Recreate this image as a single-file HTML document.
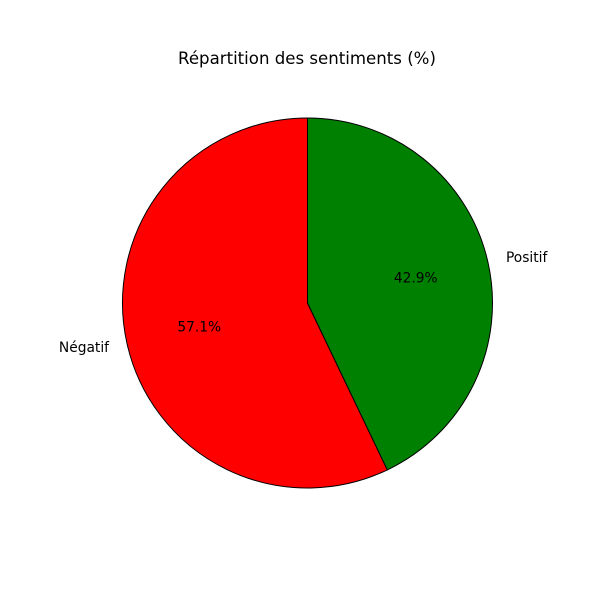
<!DOCTYPE html>
<html>
<head>
<meta charset="utf-8">
<style>
  html,body{margin:0;padding:0;background:#fff;}
  svg{display:block;font-family:"DejaVu Sans","Liberation Sans",sans-serif;}
</style>
</head>
<body>
<svg id="chart" width="600" height="600" viewBox="0 0 600 600">
  <text x="307" y="64" text-anchor="middle" font-size="16.6">Répartition des sentiments (%)</text>
  <g id="slices"></g>
</svg>
<script>
const categories = ["Négatif", "Positif"];
const values = [57.1, 42.9];
const colors = ["#ff0000", "#008000"];
const pctLabels = ["57.1%", "42.9%"];

const cx = 307.5, cy = 303, r = 185, startAngle = 90;
const NS = "http://www.w3.org/2000/svg";
const g = document.getElementById("slices");
const total = values.reduce((a, b) => a + b, 0);
function pt(deg, rad) {
  const a = deg * Math.PI / 180;
  return [cx + rad * Math.cos(a), cy - rad * Math.sin(a)];
}
let ang = startAngle;
values.forEach((v, i) => {
  const sweep = v / total * 360;
  const a0 = ang, a1 = ang + sweep;
  const p0 = pt(a0, r), p1 = pt(a1, r);
  const large = sweep > 180 ? 1 : 0;
  const path = document.createElementNS(NS, "path");
  path.setAttribute("d", `M${cx},${cy} L${p0[0]},${p0[1]} A${r},${r} 0 ${large} 0 ${p1[0]},${p1[1]} Z`);
  path.setAttribute("fill", colors[i]);
  path.setAttribute("stroke", "#000");
  path.setAttribute("stroke-width", "1");
  path.setAttribute("stroke-linejoin", "round");
  
  
  g.appendChild(path);

  const mid = (a0 + a1) / 2;
  const pp = pt(mid, r * 0.6);
  const t = document.createElementNS(NS, "text");
  t.setAttribute("x", pp[0]);
  t.setAttribute("y", pp[1] + 4);
  t.setAttribute("text-anchor", "middle");
  t.setAttribute("font-size", "13.8");
  t.textContent = pctLabels[i];
  
  
  g.appendChild(t);

  const lp = pt(mid, r * 1.1);
  const l = document.createElementNS(NS, "text");
  l.setAttribute("x", lp[0]);
  l.setAttribute("y", lp[1] + 4);
  l.setAttribute("text-anchor", Math.cos(mid * Math.PI / 180) < 0 ? "end" : "start");
  l.setAttribute("font-size", "13.8");
  l.textContent = categories[i];
  
  
  g.appendChild(l);

  ang = a1;
});
</script>
</body>
</html>
